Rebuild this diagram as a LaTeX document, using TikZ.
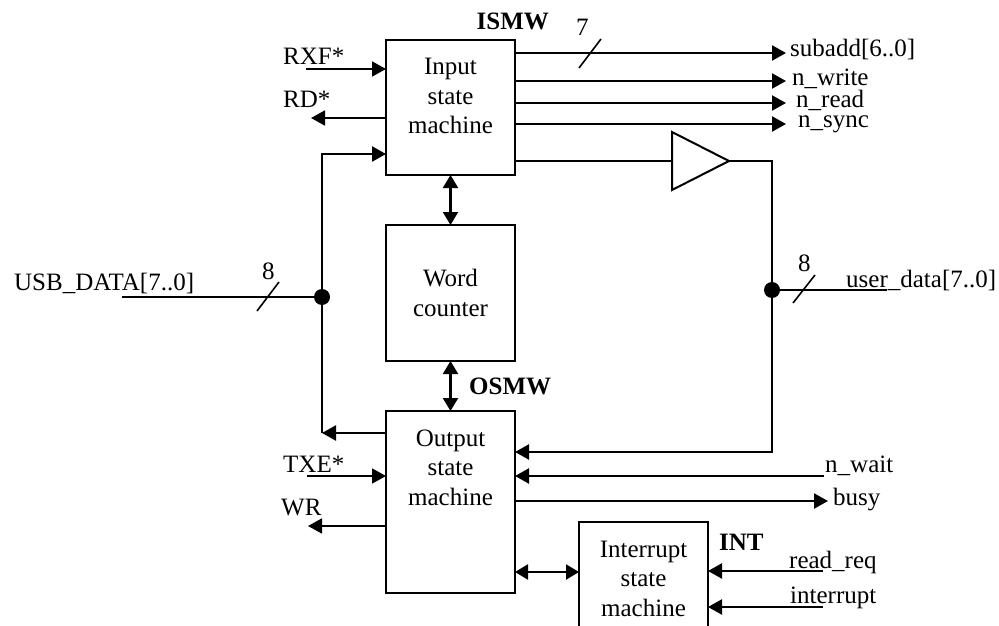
\documentclass[tikz,border=0pt]{standalone}
\usepackage{fontspec}
\setmainfont{Liberation Serif}
\usetikzlibrary{arrows.meta,shapes.geometric}

\begin{document}
\begin{tikzpicture}[
    x=1pt, y=-1pt,
    font=\fontsize{25}{29.5}\selectfont,
    smbox/.style={draw, line width=2.6pt, minimum width=129pt, outer sep=0pt, inner sep=0pt, align=center, anchor=north},
    lab/.style={anchor=base west, inner sep=0pt},
    boldlab/.style={lab, font=\fontsize{25}{29.5}\selectfont\bfseries},
    sig/.style={line width=2.3pt, -{Triangle[length=14pt,width=15pt]}},
    thinsig/.style={line width=1.8pt, -{Triangle[length=14pt,width=15pt]}},
    both/.style={line width=2.2pt, {Triangle[length=13pt,width=15pt]}-{Triangle[length=13pt,width=15pt]}},
    wire/.style={line width=2.3pt},
    slash/.style={line width=1.6pt},
    dot/.style={circle, fill, minimum size=16pt, inner sep=0pt},
  ]
  \path[use as bounding box, clip] (0,0) rectangle (999,626);

  \node[smbox, minimum height=135pt] (ismw) at (450.5,40) {Input\\state\\machine\\[-7pt]~};
  \node[smbox, minimum height=136pt] (wordcnt) at (450.5,225) {Word\\counter};
  \node[smbox, minimum height=182pt] (osmw) at (450.5,411) {Output\\state\\machine\\~\\[10pt]~};
  \node[smbox, minimum height=113pt] (intsm) at (643.5,522) {Interrupt\\state\\machine};
  \node[draw, line width=2pt, isosceles triangle, isosceles triangle stretches, minimum width=58pt, minimum height=57pt, inner sep=0pt, outer sep=0pt, anchor=apex] (buf) at (729,161) {};

  \node[dot] (usbdot) at (322,297) {};
  \node[dot] (userdot) at (772,290) {};

  \coordinate (subaddend) at (786,53);
  \coordinate (writeend) at (786,81);
  \coordinate (readend) at (786,103);
  \coordinate (syncend) at (786,124);
  \coordinate (bufin) at (450,161);
  \coordinate (rxfstart) at (306,69);
  \coordinate (rdend) at (311,118);
  \coordinate (feedin) at (322,154);
  \coordinate (feedout) at (322,433);
  \coordinate (usbstart) at (122,297);
  \coordinate (userend) at (887,290);
  \coordinate (backin) at (772,452);
  \coordinate (txestart) at (307,476);
  \coordinate (wrend) at (308,526);
  \coordinate (waitstart) at (824,476);
  \coordinate (busyend) at (828,501);
  \coordinate (intlink) at (516,572);
  \coordinate (reqstart) at (823,571);
  \coordinate (irqstart) at (823,607);
  \coordinate (ticksub) at (590,53);
  \coordinate (tickusb) at (268,297);
  \coordinate (tickuser) at (804,290);

  \draw[sig] (ismw.east |- subaddend) -- (subaddend);
  \draw[sig] (ismw.east |- writeend) -- (writeend);
  \draw[sig] (ismw.east |- readend) -- (readend);
  \draw[sig] (ismw.east |- syncend) -- (syncend);
  \draw[wire] (ismw.east |- bufin) -- (buf.west);
  \draw[wire] (buf.apex) -| (userdot);
  \draw[thinsig] (rxfstart) -- (ismw.west |- rxfstart);
  \draw[thinsig] (ismw.west |- rdend) -- (rdend);
  \draw[sig] (usbdot) |- (ismw.west |- feedin);
  \draw[wire] (usbstart) -- (usbdot);
  \draw[wire] (userdot) -- (userend);
  \draw[sig] (osmw.west |- feedout) -- (feedout);
  \draw[wire] (feedout) -- (usbdot);
  \draw[sig] (userdot) |- (osmw.east |- backin);
  \draw[thinsig] (txestart) -- (osmw.west |- txestart);
  \draw[thinsig] (osmw.west |- wrend) -- (wrend);
  \draw[sig] (waitstart) -- (osmw.east |- waitstart);
  \draw[sig] (osmw.east |- busyend) -- (busyend);
  \draw[both] (ismw.south) -- (wordcnt.north);
  \draw[both] (wordcnt.south) -- (osmw.north);
  \draw[both] (osmw.east |- intlink) -- (intsm.west |- intlink);
  \draw[sig] (reqstart) -- (intsm.east |- reqstart);
  \draw[sig] (irqstart) -- (intsm.east |- irqstart);

  \draw[slash] ([shift={(-11,15)}]ticksub) -- ([shift={(11,-14)}]ticksub);
  \draw[slash] ([shift={(-11,14)}]tickusb) -- ([shift={(11,-15)}]tickusb);
  \draw[slash] ([shift={(-11,13)}]tickuser) -- ([shift={(11,-15)}]tickuser);

  \node[boldlab] (ismwlab) at (476.5,30) {ISMW};
  \node[boldlab] (osmwlab) at (469,394) {OSMW};
  \node[boldlab] (intlab) at (719,550) {INT};
  \node[lab] (sevenlab) at (576,36) {7};
  \node[lab] (eightusb) at (262,279) {8};
  \node[lab] (eightuser) at (798,271) {8};
  \node[lab] (rxflab) at (283,65) {RXF*};
  \node[lab] (rdlab) at (283,107) {RD*};
  \node[lab] (usblab) at (14,290) {USB\_DATA[7..0]};
  \node[lab] (txelab) at (283,472) {TXE*};
  \node[lab] (wrlab) at (281,515) {WR};
  \node[lab] (subaddlab) at (790,57) {subadd[6..0]};
  \node[lab] (writelab) at (792,85) {n\_write};
  \node[lab] (readlab) at (796,107) {n\_read};
  \node[lab] (synclab) at (798,128) {n\_sync};
  \node[lab] (userlab) at (846,287) {user\_data[7..0]};
  \node[lab] (waitlab) at (825,472) {n\_wait};
  \node[lab] (busylab) at (833,505) {busy};
  \node[lab] (reqlab) at (789,568) {read\_req};
  \node[lab] (irqlab) at (790,603) {interrupt};
\end{tikzpicture}
\end{document}
